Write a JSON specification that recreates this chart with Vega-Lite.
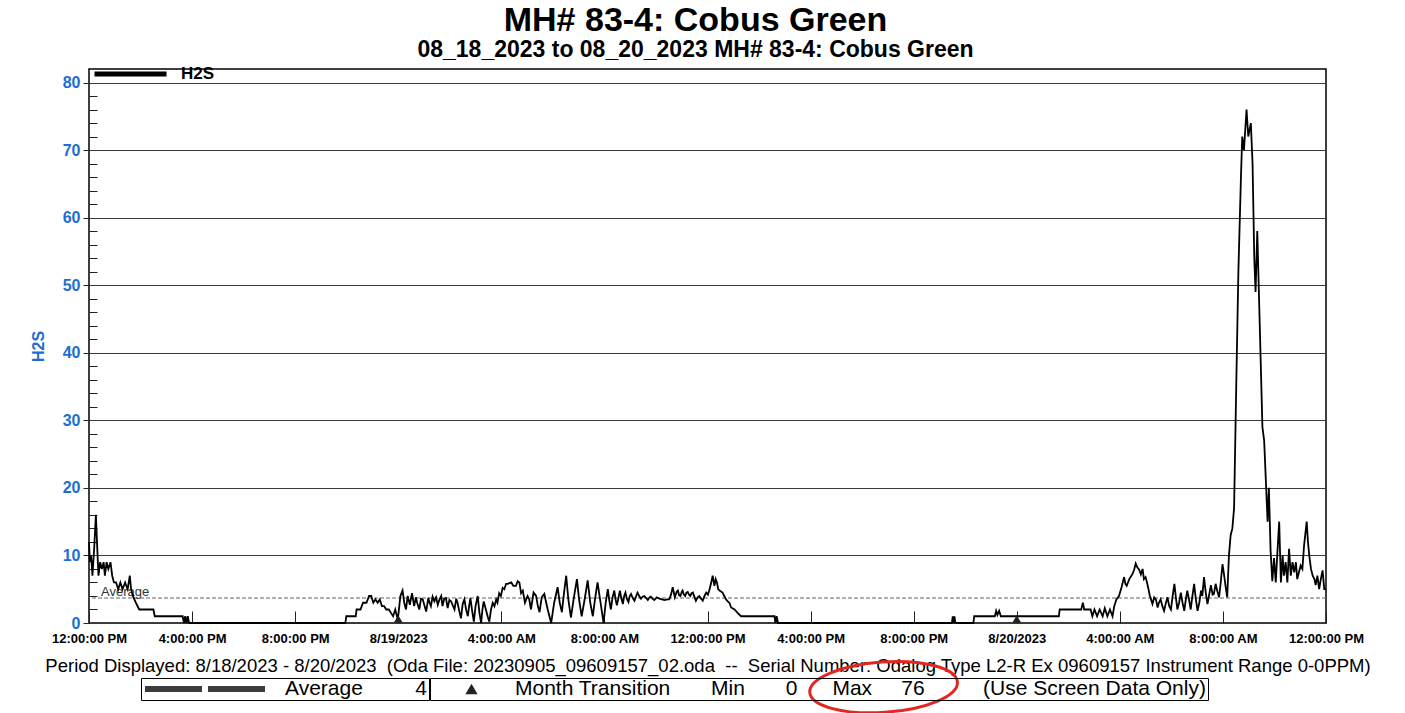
{
  "$schema": "https://vega.github.io/schema/vega-lite/v6.json",
  "width": 1237,
  "height": 554,
  "padding": {"left": 30, "top": 4, "right": 5, "bottom": 4},
  "background": "white",
  "config": {
    "font": "Liberation Sans",
    "view": {"stroke": "black", "strokeWidth": 1.5}
  },
  "title": {
    "text": "MH# 83-4: Cobus Green",
    "subtitle": "08_18_2023 to 08_20_2023 MH# 83-4: Cobus Green",
    "fontSize": 34,
    "fontWeight": "bold",
    "subtitleFontSize": 23,
    "subtitleFontWeight": "bold",
    "subtitleColor": "black",
    "color": "black",
    "anchor": "middle",
    "dx": -12,
    "offset": 4,
    "subtitlePadding": 1
  },
  "datasets": {
    "h2s": [
      {"time": "2023-08-18T12:00", "h2s": 12}, {"time": "2023-08-18T12:02", "h2s": 9}, {"time": "2023-08-18T12:05", "h2s": 10},
      {"time": "2023-08-18T12:08", "h2s": 7}, {"time": "2023-08-18T12:12", "h2s": 11}, {"time": "2023-08-18T12:16", "h2s": 16},
      {"time": "2023-08-18T12:20", "h2s": 10}, {"time": "2023-08-18T12:22", "h2s": 7}, {"time": "2023-08-18T12:26", "h2s": 9},
      {"time": "2023-08-18T12:30", "h2s": 8}, {"time": "2023-08-18T12:34", "h2s": 9}, {"time": "2023-08-18T12:37", "h2s": 7},
      {"time": "2023-08-18T12:41", "h2s": 9}, {"time": "2023-08-18T12:45", "h2s": 8}, {"time": "2023-08-18T12:50", "h2s": 9},
      {"time": "2023-08-18T12:54", "h2s": 7}, {"time": "2023-08-18T12:58", "h2s": 6}, {"time": "2023-08-18T13:03", "h2s": 6},
      {"time": "2023-08-18T13:08", "h2s": 5}, {"time": "2023-08-18T13:13", "h2s": 6}, {"time": "2023-08-18T13:18", "h2s": 5},
      {"time": "2023-08-18T13:24", "h2s": 6}, {"time": "2023-08-18T13:30", "h2s": 5}, {"time": "2023-08-18T13:35", "h2s": 7},
      {"time": "2023-08-18T13:38", "h2s": 5}, {"time": "2023-08-18T13:42", "h2s": 4}, {"time": "2023-08-18T13:49", "h2s": 3},
      {"time": "2023-08-18T13:57", "h2s": 2}, {"time": "2023-08-18T14:30", "h2s": 2}, {"time": "2023-08-18T14:33", "h2s": 1},
      {"time": "2023-08-18T15:38", "h2s": 1}, {"time": "2023-08-18T15:41", "h2s": 0}, {"time": "2023-08-18T15:44", "h2s": 1},
      {"time": "2023-08-18T15:47", "h2s": 0}, {"time": "2023-08-18T15:50", "h2s": 1}, {"time": "2023-08-18T15:53", "h2s": 0},
      {"time": "2023-08-18T21:57", "h2s": 0}, {"time": "2023-08-18T21:59", "h2s": 1}, {"time": "2023-08-18T22:21", "h2s": 1},
      {"time": "2023-08-18T22:23", "h2s": 2}, {"time": "2023-08-18T22:32", "h2s": 2}, {"time": "2023-08-18T22:38", "h2s": 3},
      {"time": "2023-08-18T22:46", "h2s": 3}, {"time": "2023-08-18T22:52", "h2s": 4}, {"time": "2023-08-18T22:57", "h2s": 4},
      {"time": "2023-08-18T23:02", "h2s": 3}, {"time": "2023-08-18T23:07", "h2s": 3.5}, {"time": "2023-08-18T23:12", "h2s": 3},
      {"time": "2023-08-18T23:17", "h2s": 3.5}, {"time": "2023-08-18T23:22", "h2s": 2.5}, {"time": "2023-08-18T23:27", "h2s": 2.5},
      {"time": "2023-08-18T23:32", "h2s": 2}, {"time": "2023-08-18T23:38", "h2s": 2}, {"time": "2023-08-18T23:43", "h2s": 1.5},
      {"time": "2023-08-18T23:48", "h2s": 1}, {"time": "2023-08-18T23:53", "h2s": 2}, {"time": "2023-08-18T23:59", "h2s": 0.5},
      {"time": "2023-08-19T00:05", "h2s": 4}, {"time": "2023-08-19T00:10", "h2s": 4.8}, {"time": "2023-08-19T00:14", "h2s": 3},
      {"time": "2023-08-19T00:18", "h2s": 2}, {"time": "2023-08-19T00:22", "h2s": 4}, {"time": "2023-08-19T00:27", "h2s": 2.7},
      {"time": "2023-08-19T00:32", "h2s": 4.4}, {"time": "2023-08-19T00:37", "h2s": 2.5}, {"time": "2023-08-19T00:41", "h2s": 3.8},
      {"time": "2023-08-19T00:44", "h2s": 3}, {"time": "2023-08-19T00:49", "h2s": 2}, {"time": "2023-08-19T00:53", "h2s": 3.6},
      {"time": "2023-08-19T00:57", "h2s": 3.5}, {"time": "2023-08-19T01:01", "h2s": 2.6}, {"time": "2023-08-19T01:05", "h2s": 1.7},
      {"time": "2023-08-19T01:10", "h2s": 3.7}, {"time": "2023-08-19T01:13", "h2s": 3}, {"time": "2023-08-19T01:16", "h2s": 2.5},
      {"time": "2023-08-19T01:20", "h2s": 3.9}, {"time": "2023-08-19T01:24", "h2s": 3.2}, {"time": "2023-08-19T01:28", "h2s": 3.8},
      {"time": "2023-08-19T01:32", "h2s": 2.7}, {"time": "2023-08-19T01:36", "h2s": 3.5}, {"time": "2023-08-19T01:40", "h2s": 4},
      {"time": "2023-08-19T01:43", "h2s": 2.5}, {"time": "2023-08-19T01:47", "h2s": 3.6}, {"time": "2023-08-19T01:51", "h2s": 3.7},
      {"time": "2023-08-19T01:55", "h2s": 2.2}, {"time": "2023-08-19T01:59", "h2s": 3.4}, {"time": "2023-08-19T02:03", "h2s": 3.2},
      {"time": "2023-08-19T02:07", "h2s": 2.6}, {"time": "2023-08-19T02:11", "h2s": 2}, {"time": "2023-08-19T02:15", "h2s": 3.6},
      {"time": "2023-08-19T02:18", "h2s": 3}, {"time": "2023-08-19T02:22", "h2s": 1.8}, {"time": "2023-08-19T02:26", "h2s": 0.7},
      {"time": "2023-08-19T02:30", "h2s": 2.8}, {"time": "2023-08-19T02:34", "h2s": 3.5}, {"time": "2023-08-19T02:38", "h2s": 2},
      {"time": "2023-08-19T02:42", "h2s": 1}, {"time": "2023-08-19T02:45", "h2s": 2.5}, {"time": "2023-08-19T02:48", "h2s": 3.7},
      {"time": "2023-08-19T02:52", "h2s": 1.8}, {"time": "2023-08-19T02:56", "h2s": 0.2}, {"time": "2023-08-19T03:00", "h2s": 2.5},
      {"time": "2023-08-19T03:05", "h2s": 4}, {"time": "2023-08-19T03:09", "h2s": 1.5}, {"time": "2023-08-19T03:13", "h2s": 0},
      {"time": "2023-08-19T03:16", "h2s": 2}, {"time": "2023-08-19T03:19", "h2s": 3.2}, {"time": "2023-08-19T03:24", "h2s": 2},
      {"time": "2023-08-19T03:28", "h2s": 1}, {"time": "2023-08-19T03:32", "h2s": 0.2}, {"time": "2023-08-19T03:36", "h2s": 2},
      {"time": "2023-08-19T03:40", "h2s": 3}, {"time": "2023-08-19T03:44", "h2s": 2.5}, {"time": "2023-08-19T03:48", "h2s": 3.5},
      {"time": "2023-08-19T03:51", "h2s": 3}, {"time": "2023-08-19T03:55", "h2s": 4.4}, {"time": "2023-08-19T03:59", "h2s": 4},
      {"time": "2023-08-19T04:03", "h2s": 5.2}, {"time": "2023-08-19T04:07", "h2s": 5}, {"time": "2023-08-19T04:11", "h2s": 5.8},
      {"time": "2023-08-19T04:15", "h2s": 5.8}, {"time": "2023-08-19T04:19", "h2s": 5.9}, {"time": "2023-08-19T04:23", "h2s": 6},
      {"time": "2023-08-19T04:28", "h2s": 5.5}, {"time": "2023-08-19T04:34", "h2s": 5.5}, {"time": "2023-08-19T04:38", "h2s": 6.2},
      {"time": "2023-08-19T04:42", "h2s": 6}, {"time": "2023-08-19T04:46", "h2s": 4.4}, {"time": "2023-08-19T04:50", "h2s": 4.8},
      {"time": "2023-08-19T04:55", "h2s": 3}, {"time": "2023-08-19T05:01", "h2s": 4}, {"time": "2023-08-19T05:05", "h2s": 3.5},
      {"time": "2023-08-19T05:09", "h2s": 2}, {"time": "2023-08-19T05:15", "h2s": 4.5}, {"time": "2023-08-19T05:21", "h2s": 4},
      {"time": "2023-08-19T05:25", "h2s": 2.5}, {"time": "2023-08-19T05:29", "h2s": 1.6}, {"time": "2023-08-19T05:34", "h2s": 3.8},
      {"time": "2023-08-19T05:40", "h2s": 4.3}, {"time": "2023-08-19T05:48", "h2s": 2}, {"time": "2023-08-19T05:56", "h2s": 0},
      {"time": "2023-08-19T06:03", "h2s": 3}, {"time": "2023-08-19T06:11", "h2s": 5.3}, {"time": "2023-08-19T06:16", "h2s": 3},
      {"time": "2023-08-19T06:21", "h2s": 1.6}, {"time": "2023-08-19T06:26", "h2s": 4.5}, {"time": "2023-08-19T06:31", "h2s": 7},
      {"time": "2023-08-19T06:36", "h2s": 3.5}, {"time": "2023-08-19T06:42", "h2s": 0.8}, {"time": "2023-08-19T06:49", "h2s": 3.8},
      {"time": "2023-08-19T06:56", "h2s": 6.5}, {"time": "2023-08-19T07:01", "h2s": 3.5}, {"time": "2023-08-19T07:07", "h2s": 1},
      {"time": "2023-08-19T07:14", "h2s": 3.5}, {"time": "2023-08-19T07:21", "h2s": 6.3}, {"time": "2023-08-19T07:27", "h2s": 3},
      {"time": "2023-08-19T07:33", "h2s": 1}, {"time": "2023-08-19T07:38", "h2s": 3.5}, {"time": "2023-08-19T07:44", "h2s": 6},
      {"time": "2023-08-19T07:51", "h2s": 3}, {"time": "2023-08-19T07:58", "h2s": 0}, {"time": "2023-08-19T08:03", "h2s": 3},
      {"time": "2023-08-19T08:08", "h2s": 5}, {"time": "2023-08-19T08:11", "h2s": 3.5}, {"time": "2023-08-19T08:15", "h2s": 2},
      {"time": "2023-08-19T08:19", "h2s": 3.8}, {"time": "2023-08-19T08:23", "h2s": 4.8}, {"time": "2023-08-19T08:26", "h2s": 3.5},
      {"time": "2023-08-19T08:29", "h2s": 2.6}, {"time": "2023-08-19T08:33", "h2s": 3.8}, {"time": "2023-08-19T08:36", "h2s": 4.8},
      {"time": "2023-08-19T08:40", "h2s": 3.5}, {"time": "2023-08-19T08:43", "h2s": 2.8}, {"time": "2023-08-19T08:46", "h2s": 4},
      {"time": "2023-08-19T08:49", "h2s": 4.5}, {"time": "2023-08-19T08:52", "h2s": 3.6}, {"time": "2023-08-19T08:56", "h2s": 3.1},
      {"time": "2023-08-19T08:59", "h2s": 4}, {"time": "2023-08-19T09:02", "h2s": 4.3}, {"time": "2023-08-19T09:06", "h2s": 3.7},
      {"time": "2023-08-19T09:10", "h2s": 3.3}, {"time": "2023-08-19T09:14", "h2s": 4}, {"time": "2023-08-19T09:17", "h2s": 4.5},
      {"time": "2023-08-19T09:21", "h2s": 4}, {"time": "2023-08-19T09:25", "h2s": 3.6}, {"time": "2023-08-19T09:29", "h2s": 3.9},
      {"time": "2023-08-19T09:33", "h2s": 4}, {"time": "2023-08-19T09:37", "h2s": 3.7}, {"time": "2023-08-19T09:41", "h2s": 3.4},
      {"time": "2023-08-19T09:45", "h2s": 3.8}, {"time": "2023-08-19T09:48", "h2s": 3.9}, {"time": "2023-08-19T09:52", "h2s": 3.6},
      {"time": "2023-08-19T09:56", "h2s": 3.4}, {"time": "2023-08-19T10:02", "h2s": 3.8}, {"time": "2023-08-19T10:08", "h2s": 3.6},
      {"time": "2023-08-19T10:14", "h2s": 3.5}, {"time": "2023-08-19T10:20", "h2s": 3.4}, {"time": "2023-08-19T10:26", "h2s": 3.5},
      {"time": "2023-08-19T10:31", "h2s": 3.5}, {"time": "2023-08-19T10:35", "h2s": 4.2}, {"time": "2023-08-19T10:39", "h2s": 5.3},
      {"time": "2023-08-19T10:42", "h2s": 4.4}, {"time": "2023-08-19T10:44", "h2s": 3.8}, {"time": "2023-08-19T10:48", "h2s": 4.6},
      {"time": "2023-08-19T10:51", "h2s": 4.8}, {"time": "2023-08-19T10:54", "h2s": 4.1}, {"time": "2023-08-19T10:57", "h2s": 4},
      {"time": "2023-08-19T11:00", "h2s": 4.6}, {"time": "2023-08-19T11:02", "h2s": 4.8}, {"time": "2023-08-19T11:05", "h2s": 4.2},
      {"time": "2023-08-19T11:08", "h2s": 4}, {"time": "2023-08-19T11:11", "h2s": 4.5}, {"time": "2023-08-19T11:14", "h2s": 4.6},
      {"time": "2023-08-19T11:17", "h2s": 4.2}, {"time": "2023-08-19T11:20", "h2s": 4}, {"time": "2023-08-19T11:23", "h2s": 4.4},
      {"time": "2023-08-19T11:26", "h2s": 4.5}, {"time": "2023-08-19T11:30", "h2s": 3.8}, {"time": "2023-08-19T11:33", "h2s": 3.3},
      {"time": "2023-08-19T11:37", "h2s": 3.8}, {"time": "2023-08-19T11:41", "h2s": 4}, {"time": "2023-08-19T11:45", "h2s": 3.6},
      {"time": "2023-08-19T11:49", "h2s": 3.3}, {"time": "2023-08-19T11:53", "h2s": 4}, {"time": "2023-08-19T11:57", "h2s": 4.5},
      {"time": "2023-08-19T12:01", "h2s": 4.2}, {"time": "2023-08-19T12:04", "h2s": 4.8}, {"time": "2023-08-19T12:08", "h2s": 5.8},
      {"time": "2023-08-19T12:12", "h2s": 7}, {"time": "2023-08-19T12:16", "h2s": 5.5}, {"time": "2023-08-19T12:19", "h2s": 6.5},
      {"time": "2023-08-19T12:22", "h2s": 6}, {"time": "2023-08-19T12:25", "h2s": 5}, {"time": "2023-08-19T12:28", "h2s": 4.8},
      {"time": "2023-08-19T12:35", "h2s": 4.5}, {"time": "2023-08-19T12:39", "h2s": 4}, {"time": "2023-08-19T12:43", "h2s": 3.5},
      {"time": "2023-08-19T12:47", "h2s": 3.2}, {"time": "2023-08-19T12:51", "h2s": 3}, {"time": "2023-08-19T12:55", "h2s": 2.3},
      {"time": "2023-08-19T13:03", "h2s": 2}, {"time": "2023-08-19T13:10", "h2s": 1.5}, {"time": "2023-08-19T13:18", "h2s": 1},
      {"time": "2023-08-19T14:36", "h2s": 1}, {"time": "2023-08-19T14:38", "h2s": 0}, {"time": "2023-08-19T14:41", "h2s": 1},
      {"time": "2023-08-19T14:44", "h2s": 0}, {"time": "2023-08-19T21:29", "h2s": 0}, {"time": "2023-08-19T21:31", "h2s": 1},
      {"time": "2023-08-19T21:33", "h2s": 0}, {"time": "2023-08-19T21:35", "h2s": 1}, {"time": "2023-08-19T21:37", "h2s": 0},
      {"time": "2023-08-19T22:19", "h2s": 0}, {"time": "2023-08-19T22:21", "h2s": 1}, {"time": "2023-08-19T23:09", "h2s": 1},
      {"time": "2023-08-19T23:12", "h2s": 1.8}, {"time": "2023-08-19T23:15", "h2s": 1.2}, {"time": "2023-08-19T23:19", "h2s": 1.8},
      {"time": "2023-08-19T23:23", "h2s": 1}, {"time": "2023-08-20T01:38", "h2s": 1}, {"time": "2023-08-20T01:40", "h2s": 2},
      {"time": "2023-08-20T02:30", "h2s": 2}, {"time": "2023-08-20T02:34", "h2s": 3}, {"time": "2023-08-20T02:37", "h2s": 2},
      {"time": "2023-08-20T02:52", "h2s": 2}, {"time": "2023-08-20T02:56", "h2s": 1}, {"time": "2023-08-20T03:01", "h2s": 2},
      {"time": "2023-08-20T03:07", "h2s": 1}, {"time": "2023-08-20T03:13", "h2s": 2}, {"time": "2023-08-20T03:20", "h2s": 1},
      {"time": "2023-08-20T03:25", "h2s": 2.2}, {"time": "2023-08-20T03:31", "h2s": 1}, {"time": "2023-08-20T03:37", "h2s": 2},
      {"time": "2023-08-20T03:43", "h2s": 1}, {"time": "2023-08-20T03:47", "h2s": 2.5}, {"time": "2023-08-20T03:52", "h2s": 3.5},
      {"time": "2023-08-20T03:58", "h2s": 4}, {"time": "2023-08-20T04:04", "h2s": 5.3}, {"time": "2023-08-20T04:10", "h2s": 6.8},
      {"time": "2023-08-20T04:13", "h2s": 5.8}, {"time": "2023-08-20T04:16", "h2s": 5.5}, {"time": "2023-08-20T04:22", "h2s": 6.5},
      {"time": "2023-08-20T04:29", "h2s": 7.2}, {"time": "2023-08-20T04:33", "h2s": 7.8}, {"time": "2023-08-20T04:37", "h2s": 8.8},
      {"time": "2023-08-20T04:41", "h2s": 8.2}, {"time": "2023-08-20T04:45", "h2s": 7.9}, {"time": "2023-08-20T04:49", "h2s": 7.2},
      {"time": "2023-08-20T04:53", "h2s": 8}, {"time": "2023-08-20T04:56", "h2s": 6.5}, {"time": "2023-08-20T05:00", "h2s": 6.8},
      {"time": "2023-08-20T05:04", "h2s": 5.8}, {"time": "2023-08-20T05:10", "h2s": 4}, {"time": "2023-08-20T05:16", "h2s": 2.8},
      {"time": "2023-08-20T05:20", "h2s": 3.8}, {"time": "2023-08-20T05:24", "h2s": 3.5}, {"time": "2023-08-20T05:28", "h2s": 2.3},
      {"time": "2023-08-20T05:31", "h2s": 3}, {"time": "2023-08-20T05:35", "h2s": 3.5}, {"time": "2023-08-20T05:39", "h2s": 2.5},
      {"time": "2023-08-20T05:43", "h2s": 1.8}, {"time": "2023-08-20T05:47", "h2s": 2.9}, {"time": "2023-08-20T05:51", "h2s": 3.8},
      {"time": "2023-08-20T05:55", "h2s": 2.5}, {"time": "2023-08-20T05:59", "h2s": 2}, {"time": "2023-08-20T06:03", "h2s": 4},
      {"time": "2023-08-20T06:07", "h2s": 5.8}, {"time": "2023-08-20T06:11", "h2s": 3.5}, {"time": "2023-08-20T06:14", "h2s": 2},
      {"time": "2023-08-20T06:18", "h2s": 3}, {"time": "2023-08-20T06:22", "h2s": 4.5}, {"time": "2023-08-20T06:26", "h2s": 3},
      {"time": "2023-08-20T06:30", "h2s": 1.8}, {"time": "2023-08-20T06:33", "h2s": 3.2}, {"time": "2023-08-20T06:37", "h2s": 4.8},
      {"time": "2023-08-20T06:41", "h2s": 3.5}, {"time": "2023-08-20T06:45", "h2s": 2}, {"time": "2023-08-20T06:49", "h2s": 4},
      {"time": "2023-08-20T06:53", "h2s": 5.8}, {"time": "2023-08-20T06:57", "h2s": 3.5}, {"time": "2023-08-20T07:01", "h2s": 1.8},
      {"time": "2023-08-20T07:05", "h2s": 3}, {"time": "2023-08-20T07:09", "h2s": 4.8}, {"time": "2023-08-20T07:12", "h2s": 4},
      {"time": "2023-08-20T07:16", "h2s": 6.8}, {"time": "2023-08-20T07:20", "h2s": 4.5}, {"time": "2023-08-20T07:24", "h2s": 2.8},
      {"time": "2023-08-20T07:28", "h2s": 4.2}, {"time": "2023-08-20T07:32", "h2s": 5.6}, {"time": "2023-08-20T07:36", "h2s": 4.2},
      {"time": "2023-08-20T07:39", "h2s": 4.3}, {"time": "2023-08-20T07:43", "h2s": 5.8}, {"time": "2023-08-20T07:47", "h2s": 4.7},
      {"time": "2023-08-20T07:51", "h2s": 3.8}, {"time": "2023-08-20T07:55", "h2s": 6}, {"time": "2023-08-20T07:59", "h2s": 8.7},
      {"time": "2023-08-20T08:03", "h2s": 7}, {"time": "2023-08-20T08:06", "h2s": 5.5}, {"time": "2023-08-20T08:10", "h2s": 3.8},
      {"time": "2023-08-20T08:14", "h2s": 10}, {"time": "2023-08-20T08:18", "h2s": 13}, {"time": "2023-08-20T08:22", "h2s": 14},
      {"time": "2023-08-20T08:26", "h2s": 17}, {"time": "2023-08-20T08:31", "h2s": 35}, {"time": "2023-08-20T08:36", "h2s": 52},
      {"time": "2023-08-20T08:42", "h2s": 66}, {"time": "2023-08-20T08:45", "h2s": 72}, {"time": "2023-08-20T08:49", "h2s": 70},
      {"time": "2023-08-20T08:52", "h2s": 73}, {"time": "2023-08-20T08:55", "h2s": 76}, {"time": "2023-08-20T08:59", "h2s": 72},
      {"time": "2023-08-20T09:02", "h2s": 73}, {"time": "2023-08-20T09:05", "h2s": 74}, {"time": "2023-08-20T09:09", "h2s": 68},
      {"time": "2023-08-20T09:13", "h2s": 54}, {"time": "2023-08-20T09:16", "h2s": 49}, {"time": "2023-08-20T09:20", "h2s": 58},
      {"time": "2023-08-20T09:32", "h2s": 29}, {"time": "2023-08-20T09:36", "h2s": 27}, {"time": "2023-08-20T09:40", "h2s": 21},
      {"time": "2023-08-20T09:44", "h2s": 15}, {"time": "2023-08-20T09:47", "h2s": 20}, {"time": "2023-08-20T09:51", "h2s": 10.7},
      {"time": "2023-08-20T09:55", "h2s": 6.2}, {"time": "2023-08-20T09:59", "h2s": 9.6}, {"time": "2023-08-20T10:03", "h2s": 6},
      {"time": "2023-08-20T10:07", "h2s": 10.6}, {"time": "2023-08-20T10:11", "h2s": 15}, {"time": "2023-08-20T10:15", "h2s": 6},
      {"time": "2023-08-20T10:19", "h2s": 10}, {"time": "2023-08-20T10:22", "h2s": 7}, {"time": "2023-08-20T10:26", "h2s": 9},
      {"time": "2023-08-20T10:30", "h2s": 6}, {"time": "2023-08-20T10:34", "h2s": 11}, {"time": "2023-08-20T10:38", "h2s": 7},
      {"time": "2023-08-20T10:42", "h2s": 9}, {"time": "2023-08-20T10:46", "h2s": 7.5}, {"time": "2023-08-20T10:50", "h2s": 9},
      {"time": "2023-08-20T10:53", "h2s": 6.5}, {"time": "2023-08-20T10:57", "h2s": 7.5}, {"time": "2023-08-20T11:01", "h2s": 8.5},
      {"time": "2023-08-20T11:05", "h2s": 8}, {"time": "2023-08-20T11:09", "h2s": 11.5}, {"time": "2023-08-20T11:15", "h2s": 15},
      {"time": "2023-08-20T11:18", "h2s": 12}, {"time": "2023-08-20T11:21", "h2s": 10}, {"time": "2023-08-20T11:25", "h2s": 8},
      {"time": "2023-08-20T11:29", "h2s": 7}, {"time": "2023-08-20T11:33", "h2s": 6.5}, {"time": "2023-08-20T11:36", "h2s": 5.6},
      {"time": "2023-08-20T11:40", "h2s": 7}, {"time": "2023-08-20T11:44", "h2s": 5}, {"time": "2023-08-20T11:48", "h2s": 6.5},
      {"time": "2023-08-20T11:52", "h2s": 7.8}, {"time": "2023-08-20T11:56", "h2s": 5}, {"time": "2023-08-20T12:00", "h2s": 5}
    ],
    "transitions": [{"time": "2023-08-19T00:00"}, {"time": "2023-08-20T00:00"}],
    "stats": [{"label": "Average", "value": 3.7}],
    "note": [{"note": "Max 76"}]
  },
  "layer": [
    {
      "data": {"name": "stats"},
      "mark": {"type": "rule", "color": "#666", "strokeWidth": 1, "strokeDash": [4, 2]},
      "encoding": {
        "y": {"field": "value", "type": "quantitative"}
      }
    },
    {
      "data": {"values": []},
      "mark": {"type": "rule", "color": "#3c3c3c", "strokeWidth": 6, "strokeDash": [57, 6]},
      "encoding": {
        "y": {"field": "value", "type": "quantitative"},
        "opacity": {
          "datum": "Average",
          "scale": {"domain": ["Average"], "range": [1]},
          "legend": {
            "orient": "none", "legendX": 52, "legendY": 609, "title": null,
            "symbolType": "stroke", "symbolSize": 14400, "symbolStrokeWidth": 6, "symbolDash": [57, 6],
            "symbolStrokeColor": "#3c3c3c",
            "clipHeight": 20, "strokeColor": "black", "padding": 1,
            "labelFontSize": 21, "labelColor": "black", "labelOffset": 17, "labelLimit": 1000,
            "labelExpr": "'Average\u00a0\u00a0\u00a0\u00a0\u00a0\u00a0\u00a0\u00a0\u00a04'"
          }
        }
      }
    },
    {
      "data": {"name": "stats"},
      "mark": {"type": "text", "align": "left", "baseline": "alphabetic", "dx": 12, "dy": -2, "fontSize": 13, "color": "#333"},
      "encoding": {
        "x": {"datum": {"year": 2023, "month": 8, "date": 18, "hours": 12}, "type": "temporal"},
        "y": {"field": "value", "type": "quantitative"},
        "text": {"field": "label"}
      }
    },
    {
      "data": {"name": "h2s"},
      "mark": {"type": "line", "strokeWidth": 1.8, "interpolate": "linear"},
      "encoding": {
        "x": {
          "field": "time",
          "type": "temporal",
          "scale": {"domain": [{"year": 2023, "month": 8, "date": 18, "hours": 12}, {"year": 2023, "month": 8, "date": 20, "hours": 12}]},
          "axis": {
            "values": [
              {"year": 2023, "month": 8, "date": 18, "hours": 12}, {"year": 2023, "month": 8, "date": 18, "hours": 16},
              {"year": 2023, "month": 8, "date": 18, "hours": 20}, {"year": 2023, "month": 8, "date": 19, "hours": 0},
              {"year": 2023, "month": 8, "date": 19, "hours": 4}, {"year": 2023, "month": 8, "date": 19, "hours": 8},
              {"year": 2023, "month": 8, "date": 19, "hours": 12}, {"year": 2023, "month": 8, "date": 19, "hours": 16},
              {"year": 2023, "month": 8, "date": 19, "hours": 20}, {"year": 2023, "month": 8, "date": 20, "hours": 0},
              {"year": 2023, "month": 8, "date": 20, "hours": 4}, {"year": 2023, "month": 8, "date": 20, "hours": 8},
              {"year": 2023, "month": 8, "date": 20, "hours": 12}
            ],
            "tickCount": 100,
            "labelExpr": "hours(datum.value) == 0 ? timeFormat(datum.value, '%-m/%-d/%Y') : timeFormat(datum.value, '%-I:%M:%S %p')",
            "labelFontSize": 13,
            "labelFontWeight": "bold",
            "labelColor": "black",
            "labelOverlap": false,
            "labelFlush": false,
            "labelPadding": 21,
            "tickSize": -12,
            "tickColor": "#222",
            "tickWidth": 1,
            "grid": false,
            "domain": false,
            "title": "Period Displayed: 8/18/2023 - 8/20/2023\u00a0\u00a0(Oda File: 20230905_09609157_02.oda\u00a0\u00a0--\u00a0\u00a0Serial Number: Odalog Type L2-R Ex 09609157 Instrument Range 0-0PPM)",
            "titleFontSize": 18.5,
            "titleFontWeight": "normal",
            "titleColor": "black",
            "titlePadding": 11,
            "titleLimit": 2000
          }
        },
        "y": {
          "field": "h2s",
          "type": "quantitative",
          "scale": {"domain": [0, 82], "nice": false},
          "axis": {
            "values": [0, 2, 4, 6, 8, 10, 12, 14, 16, 18, 20, 22, 24, 26, 28, 30, 32, 34, 36, 38, 40, 42, 44, 46, 48, 50, 52, 54, 56, 58, 60, 62, 64, 66, 68, 70, 72, 74, 76, 78, 80],
            "tickCount": 100,
            "labelOverlap": false,
            "labelExpr": "datum.value % 10 === 0 ? datum.label : ''",
            "tickSize": {"condition": {"test": "datum.value % 10 === 0", "value": 6}, "value": -8},
            "gridColor": {"condition": {"test": "datum.value % 10 === 0", "value": "#3a3a3a"}, "value": "transparent"},
            "grid": true,
            "gridWidth": 1,
            "domain": false,
            "tickColor": "#222",
            "labelColor": "#1c6fd1",
            "labelFontSize": 16,
            "labelFontWeight": "bold",
            "labelPadding": 3,
            "title": "H2S",
            "titleColor": "#1c6fd1",
            "titleFontSize": 16,
            "titleFontWeight": "bold",
            "titlePadding": 16
          }
        },
        "color": {
          "datum": "H2S",
          "scale": {"domain": ["H2S"], "range": ["black"]},
          "legend": {
            "orient": "none", "legendX": 3, "legendY": -3, "title": null,
            "symbolType": "stroke", "symbolSize": 5184, "symbolStrokeWidth": 5, "clipHeight": 16,
            "padding": 0, "labelFontSize": 17, "labelFontWeight": "bold", "labelColor": "black", "labelOffset": 12
          }
        }
      }
    },
    {
      "data": {"name": "transitions"},
      "mark": {"type": "point", "filled": true, "color": "#222", "size": 80, "opacity": 1, "yOffset": -4},
      "encoding": {
        "x": {"field": "time", "type": "temporal"},
        "y": {"datum": 0},
        "shape": {
          "datum": "Month Transition",
          "scale": {"domain": ["Month Transition"], "range": ["triangle-up"]},
          "legend": {
            "orient": "none", "legendX": 341, "legendY": 609, "title": null,
            "symbolSize": 150, "symbolFillColor": "#222", "symbolOffset": 30, "clipHeight": 20,
            "strokeColor": "black", "padding": 1,
            "labelFontSize": 21, "labelColor": "black", "labelOffset": 33, "labelLimit": 2000,
            "labelExpr": "'Month Transition\u00a0\u00a0\u00a0\u00a0\u00a0\u00a0\u00a0Min\u00a0\u00a0\u00a0\u00a0\u00a0\u00a0\u00a00\u00a0\u00a0\u00a0\u00a0\u00a0\u00a0Max\u00a0\u00a0\u00a0\u00a0\u00a076\u00a0\u00a0\u00a0\u00a0\u00a0\u00a0\u00a0\u00a0\u00a0\u00a0(Use Screen Data Only)'"
          }
        }
      }
    },
    {
      "data": {"name": "note"},
      "mark": {"type": "point", "shape": "M -1 0 A 1 0.34 0 1 0 1 0 A 1 0.34 0 1 0 -1 0", "filled": false, "stroke": "#e3261f", "strokeWidth": 3, "size": 21904, "opacity": 1, "angle": -4},
      "encoding": {
        "x": {"datum": {"year": 2023, "month": 8, "date": 19, "hours": 18, "minutes": 50}, "type": "temporal"},
        "y": {"datum": -9.5}
      }
    }
  ]
}
